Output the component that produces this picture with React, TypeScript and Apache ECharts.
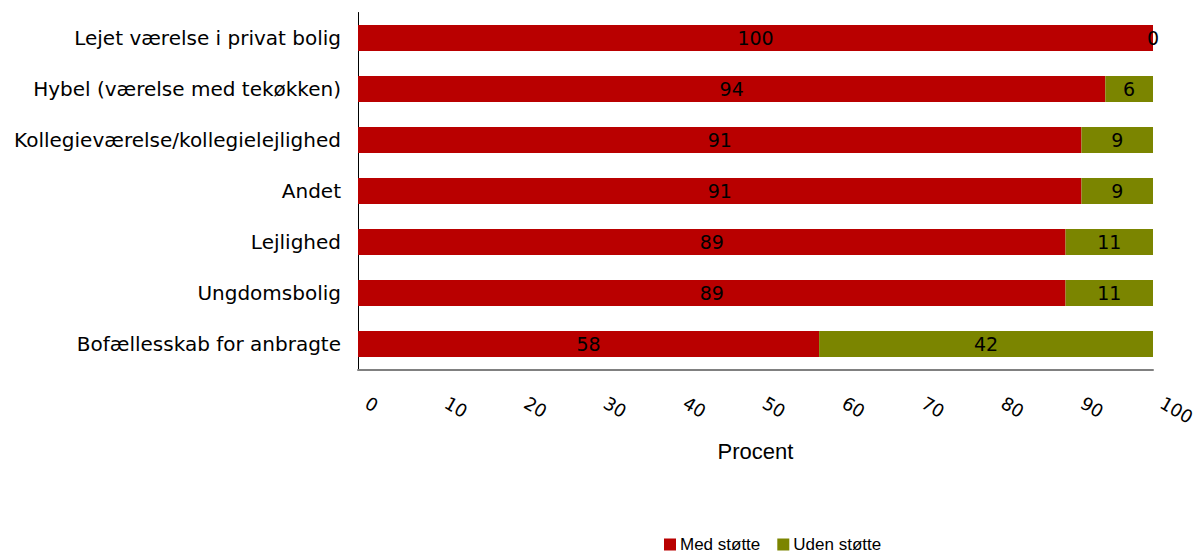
import React, { useEffect, useRef } from "react";
import * as echarts from "echarts";

const categories = [
  "Lejet værelse i privat bolig",
  "Hybel (værelse med tekøkken)",
  "Kollegieværelse/kollegielejlighed",
  "Andet",
  "Lejlighed",
  "Ungdomsbolig",
  "Bofællesskab for anbragte",
];
const medStotte = [100, 94, 91, 91, 89, 89, 58];
const udenStotte = [0, 6, 9, 9, 11, 11, 42];
const seriesNames = ["Med støtte", "Uden støtte"];
const xAxisName = "Procent";

export default function App() {
  const ref = useRef<HTMLDivElement>(null);
  useEffect(() => {
    if (!ref.current) return;
    const chart = echarts.init(ref.current, undefined, { renderer: "svg" });
    const labelStyle = {
      show: true,
      position: "inside",
      color: "#000",
      fontFamily: "DejaVu Sans",
      fontSize: 19,
    };
    chart.setOption({
      animation: false,
      backgroundColor: "#fff",
      grid: { left: 358, right: 46, top: 12.5, bottom: 187.5, containLabel: false },
      legend: {
        left: 664,
        top: 536,
        padding: 0,
        itemWidth: 12,
        itemHeight: 12,
        itemGap: 17,
        icon: "rect",
        textStyle: {
          fontFamily: "Liberation Sans",
          fontSize: 17,
          color: "#000",
          padding: [0, 0, 0, -1],
        },
        data: seriesNames,
      },
      xAxis: {
        type: "value",
        min: 0,
        max: 100,
        interval: 10,
        name: xAxisName,
        nameLocation: "middle",
        nameGap: 71,
        nameTextStyle: { fontFamily: "Liberation Sans", fontSize: 22, color: "#000", verticalAlign: "top" },
        axisLine: { show: true, lineStyle: { color: "#808080", width: 2 } },
        axisTick: { show: false },
        splitLine: { show: false },
        axisLabel: {
          rotate: -30,
          margin: 27,
          padding: [0, 0, 0, 10],
          fontFamily: "DejaVu Sans",
          fontSize: 18,
          color: "#000",
        },
      },
      yAxis: {
        type: "category",
        data: categories,
        inverse: true,
        axisLine: { show: true, lineStyle: { color: "#000", width: 1 } },
        axisTick: { show: false },
        axisLabel: { margin: 17, fontFamily: "DejaVu Sans", fontSize: 20, color: "#000" },
      },
      series: [
        {
          name: seriesNames[0],
          type: "bar",
          stack: "total",
          barWidth: 26,
          itemStyle: { color: "#B90000" },
          label: labelStyle,
          data: medStotte,
        },
        {
          name: seriesNames[1],
          type: "bar",
          stack: "total",
          barWidth: 26,
          itemStyle: { color: "#7B8500" },
          label: labelStyle,
          data: udenStotte,
        },
      ],
    });
    return () => chart.dispose();
  }, []);
  return (
    <div
      ref={ref}
      style={{ position: "fixed", left: 0, top: 0, width: 1199, height: 557 }}
    />
  );
}
